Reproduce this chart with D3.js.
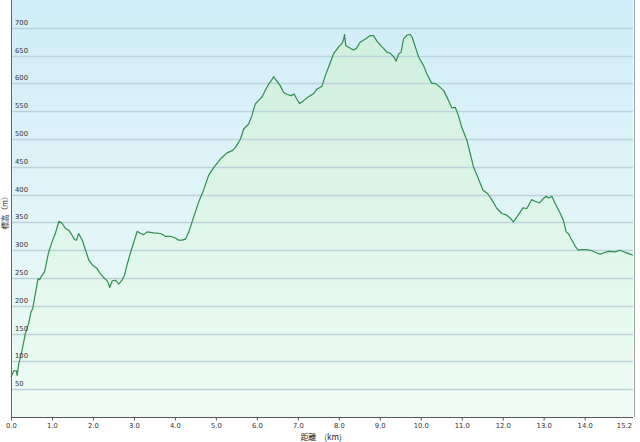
<!DOCTYPE html>
<html><head><meta charset="utf-8">
<script src="https://cdn.jsdelivr.net/npm/d3@7"></script>
<style>
html,body{margin:0;padding:0;background:#fff;}
svg{display:block;}
text{font-family:"DejaVu Sans",Verdana,sans-serif;}
</style></head>
<body>
<script>
const distanceKm = [0.00,0.07,0.13,0.15,0.19,0.27,0.35,0.43,0.49,0.53,0.58,0.66,0.70,0.74,0.82,0.91,1.00,1.09,1.17,1.25,1.33,1.41,1.49,1.55,1.60,1.65,1.74,1.82,1.90,1.98,2.10,2.18,2.26,2.36,2.41,2.47,2.55,2.63,2.71,2.77,2.83,2.91,3.00,3.08,3.16,3.24,3.32,3.48,3.65,3.77,3.89,4.01,4.09,4.18,4.26,4.34,4.46,4.58,4.70,4.82,4.95,5.11,5.27,5.40,5.48,5.60,5.68,5.80,5.88,5.96,6.04,6.13,6.21,6.29,6.35,6.41,6.47,6.57,6.65,6.74,6.84,6.91,6.98,7.04,7.14,7.26,7.39,7.47,7.59,7.67,7.75,7.87,8.00,8.08,8.12,8.14,8.17,8.24,8.36,8.43,8.52,8.65,8.77,8.85,8.93,9.05,9.18,9.26,9.34,9.40,9.46,9.52,9.58,9.67,9.74,9.79,9.87,9.95,10.07,10.15,10.27,10.35,10.43,10.56,10.68,10.76,10.84,10.92,11.00,11.13,11.21,11.29,11.41,11.52,11.63,11.74,11.86,11.98,12.10,12.18,12.26,12.35,12.43,12.49,12.59,12.71,12.79,12.90,12.98,13.06,13.12,13.20,13.28,13.40,13.48,13.55,13.60,13.69,13.77,13.85,13.93,14.05,14.18,14.30,14.38,14.46,14.58,14.74,14.87,14.99,15.11,15.18];
const elevationM = [72,83,83,75,96,120,150,168,189,195,216,249,247,253,261,294,315,332,352,348,339,336,327,319,318,330,318,300,282,274,267,258,251,244,233,245,246,239,246,255,273,294,315,334,330,328,333,331,330,325,325,322,318,318,320,333,360,387,408,434,449,464,475,479,485,500,518,527,542,563,569,576,588,599,605,612,606,596,584,580,578,581,571,564,569,576,582,590,595,614,629,653,666,672,680,688,668,665,660,663,674,680,686,686,676,666,656,654,648,640,653,656,680,687,688,683,665,647,632,617,600,600,596,587,569,556,557,542,521,497,473,449,428,408,402,390,375,366,363,358,351,360,369,376,375,391,388,385,392,397,394,397,384,367,354,333,330,318,307,300,301,301,299,295,293,295,298,297,300,296,293,291];
const xTickValues = [0,1,2,3,4,5,6,7,8,9,10,11,12,13,14];
const xEndLabel = "15.2";
const yTickValues = [50,100,150,200,250,300,350,400,450,500,550,600,650,700];
const xTitle = "距離　(km)";
const yTitle = "標高（m）";

(function () {
const W = 640, H = 442;
const pL = 11, pR = 633, pT = 0, pB = 417;
const svg = d3.select("body").append("svg").attr("width", W).attr("height", H);
const x = d3.scaleLinear().domain([0, d3.max(distanceKm)]).range([pL, pR]);
const y = d3.scaleLinear().domain([0, 750]).range([pB, pT]);
const data = distanceKm.map((d, i) => ({d, e: elevationM[i]}));

const defs = svg.append("defs");
const bg = defs.append("linearGradient").attr("id", "bg").attr("gradientUnits", "userSpaceOnUse")
  .attr("x1", 0).attr("y1", pT).attr("x2", 0).attr("y2", pB);
bg.append("stop").attr("offset", 0).attr("stop-color", "#d0edf9");
bg.append("stop").attr("offset", 0.55).attr("stop-color", "#e2f5f7");
bg.append("stop").attr("offset", 1).attr("stop-color", "#edfbf3");
const ag = defs.append("linearGradient").attr("id", "ag").attr("gradientUnits", "userSpaceOnUse")
  .attr("x1", 0).attr("y1", pT).attr("x2", 0).attr("y2", pB);
ag.append("stop").attr("offset", 0).attr("stop-color", "#cdeedd");
ag.append("stop").attr("offset", 0.5).attr("stop-color", "#ddf5e8");
ag.append("stop").attr("offset", 1).attr("stop-color", "#effcf5");

svg.append("rect").attr("x", pL).attr("y", pT).attr("width", pR - pL).attr("height", pB - pT).attr("fill", "url(#bg)");

svg.append("path").datum(data)
  .attr("d", d3.area().x(p => x(p.d)).y0(y(0)).y1(p => y(p.e)))
  .attr("fill", "url(#ag)");

// grid
svg.append("g").selectAll("line").data(yTickValues).join("line")
  .attr("x1", pL).attr("x2", pR)
  .attr("y1", v => Math.round(y(v)) + 0.5).attr("y2", v => Math.round(y(v)) + 0.5)
  .attr("stroke", "#bcd3db").attr("stroke-width", 1.3);

svg.append("path").datum(data)
  .attr("d", d3.line().x(p => x(p.d)).y(p => y(p.e)))
  .attr("fill", "none").attr("stroke", "#2e8e50").attr("stroke-width", 1.2).attr("stroke-linejoin", "round");

// y tick labels
svg.append("g").selectAll("text").data(yTickValues).join("text")
  .attr("x", pL + 4).attr("y", v => y(v) - 3)
  .attr("font-size", 6.8).attr("fill", "#333").text(v => v);

// axes lines
svg.append("line").attr("x1", pL + 0.5).attr("x2", pL + 0.5).attr("y1", 0).attr("y2", pB + 3)
  .attr("stroke", "#666").attr("stroke-width", 1);
svg.append("line").attr("x1", pR + 1.5).attr("x2", pR + 1.5).attr("y1", 0).attr("y2", pB)
  .attr("stroke", "#a0a0a0").attr("stroke-width", 1);

const xAxis = d3.axisBottom(x).tickValues(xTickValues).tickFormat(d3.format(".1f")).tickSize(3).tickSizeOuter(0);
const gx = svg.append("g").attr("transform", `translate(0,${pB + 0.5})`).call(xAxis);
gx.select(".domain").attr("stroke", "#555").attr("d", `M${pL},0H${pR}`);
gx.selectAll(".tick line").attr("stroke", "#555");
gx.selectAll(".tick text").attr("font-size", 6.8).attr("fill", "#333").attr("dy", null).attr("y", 10)
  .attr("font-family", "\"DejaVu Sans\",sans-serif");
svg.append("text").attr("x", pR - 1).attr("y", pB + 10.5).attr("text-anchor", "end")
  .attr("font-size", 6.8).attr("fill", "#333").text(xEndLabel);

svg.append("text").attr("x", 321).attr("y", 440).attr("text-anchor", "middle")
  .attr("font-size", 8).attr("fill", "#222")
  .style("font-family", "\"Noto Sans CJK JP\",sans-serif").text(xTitle);
svg.append("text").attr("transform", "translate(8,211) rotate(-90)").attr("text-anchor", "middle")
  .attr("font-size", 7.5).attr("fill", "#222")
  .style("font-family", "\"Noto Sans CJK JP\",sans-serif").text(yTitle);
})();
</script>
</body></html>
